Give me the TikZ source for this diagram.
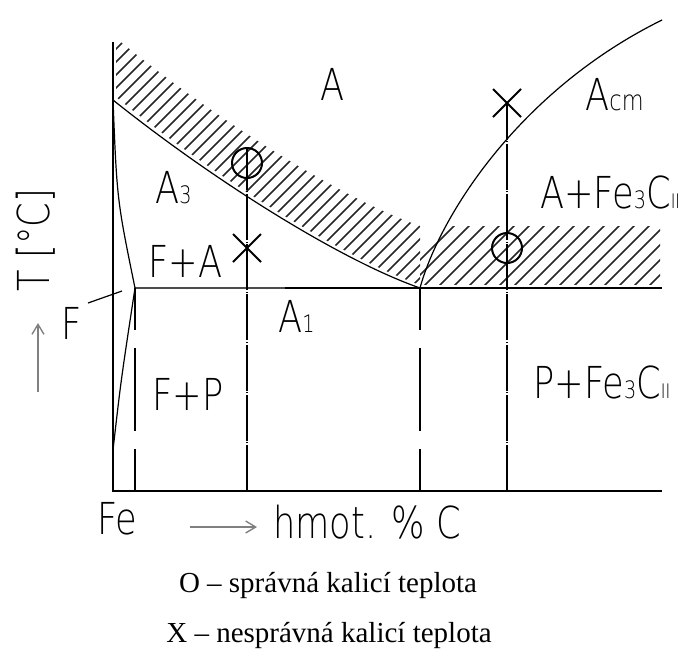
\documentclass[tikz,border=0pt]{standalone}
\usepackage{fontspec}
\setmainfont{Liberation Serif}
\newfontfamily\isofont[FakeStretch=0.8]{DejaVu Sans ExtraLight}
\usetikzlibrary{arrows.meta,shapes.misc}
\newcommand\lowsub[2]{{\fontsize{#1}{#1}\selectfont #2}}

\begin{document}
\begin{tikzpicture}[x=0.5pt,y=-0.5pt,line cap=butt,
  axis/.style={line width=1pt},
  thinline/.style={line width=0.6pt},
  hatchline/.style={line width=0.75pt,black!85},
  longdash/.style={line width=0.9pt,dash pattern=on 41.5pt off 9pt,dash phase=20.5pt},
  dashdot/.style={line width=0.9pt,dash pattern=on 23pt off 0.8pt on 0.5pt off 0.8pt},
  ring/.style={circle,draw,line width=1pt,minimum size=15pt,inner sep=0pt},
  xmark/.style={cross out,draw,line width=1pt,minimum size=13pt,inner sep=0pt},
  lbl/.style={font=\isofont\fontsize{22}{22}\selectfont,inner sep=0pt,anchor=base west},
  legendtext/.style={font=\fontsize{14.5}{14.5}\selectfont,inner sep=0pt,anchor=base},
  grayarrow/.style={gray,line width=0.7pt,-{Straight Barb[length=5pt,width=6pt]}}]
\useasboundingbox (0,0) rectangle (684,650);

% hatched band above A3 / A1
\begin{scope}
\clip (116,38) .. controls (213,118) and (340,198) .. (420,226) -- (420,285)
  .. controls (340,256) and (213,176) .. (116,97) -- cycle;
\foreach \k in {-200,-187,...,430}
  \draw[hatchline] (\k,300) -- ++(300,-300);
\end{scope}
\begin{scope}
\clip (420,226) rectangle (660,284);
\foreach \k in {380,395,...,680}
  \draw[hatchline] (\k,300) -- ++(90,-90);
\end{scope}

% axes
\coordinate (O) at (113,491);
\coordinate (Ytop) at (113,42);
\coordinate (Xend) at (662,491);
\draw[axis] (Ytop) -- (O) -- (Xend);

% A1 line
\coordinate (Pf) at (135,288);
\coordinate (Pe) at (420,288);
\draw[thinline,black!70] (Pf) -- (285,288);
\draw[axis] (285,288) -- (662,288);

% A3, Acm and F curves
\coordinate (G) at (113,100);
\draw[thinline] (G) .. controls (213,180) and (340,260) .. (Pe);
\draw[thinline] (Pe) .. controls (440,215) and (520,90) .. (662,20);
\draw[thinline] (G) .. controls (117,200) .. (Pf);
\draw[thinline] (Pf) .. controls (121,380) .. (113,450);

% vertical lines
\draw[longdash] (Pf) -- (135,491);
\draw[longdash] (Pe) -- (420,491);

\node[ring] (c1) at (247,163) {};
\node[xmark] (x1) at (247,248) {};
\node[xmark] (x2) at (507,103) {};
\node[ring] (c2) at (507,248) {};
\draw[dashdot] (247,491) -- (c1.north);
\draw[dashdot] (507,491) -- (x2.center);

% labels
\node[lbl] (lA) at (320,100) {A};
\node[lbl] (lA3) at (155,203) {A\lowsub{12}{3}};
\node[lbl] (lFA) at (148,277) {F+A};
\node[lbl] (lA1) at (278,332) {A\lowsub{12}{1}};
\node[lbl] (lFP) at (152,410) {F+P};
\node[lbl] (lAcm) at (585,110) {A\lowsub{14}{cm}};
\node[lbl] (lAFe) at (540,208) {A+Fe\lowsub{12}{3}C\lowsub{10}{II}};
\node[lbl] (lPFe) at (533,398) {P+Fe\lowsub{12}{3}C\lowsub{10}{II}};

% F label with leader
\node[lbl,anchor=center] (lF) at (72,323) {F};
\coordinate (Ftip) at (122,291);
\draw[thinline] (88,303) -- (Ftip);

% axis titles
\node[lbl,anchor=center,rotate=90] (lT) at (36,240) {T [°C]};
\draw[grayarrow] (38,392) -- (38,323);
\node[lbl,anchor=center] (lFe) at (117,519) {Fe};
\node[lbl,anchor=center] (lC) at (367,522) {hmot. \% C};
\draw[grayarrow] (190,527) -- (257,527);

% legend
\node[legendtext] (leg1) at (328,592) {O – správná kalicí teplota};
\node[legendtext] (leg2) at (329,642) {X – nesprávná kalicí teplota};
\end{tikzpicture}
\end{document}
